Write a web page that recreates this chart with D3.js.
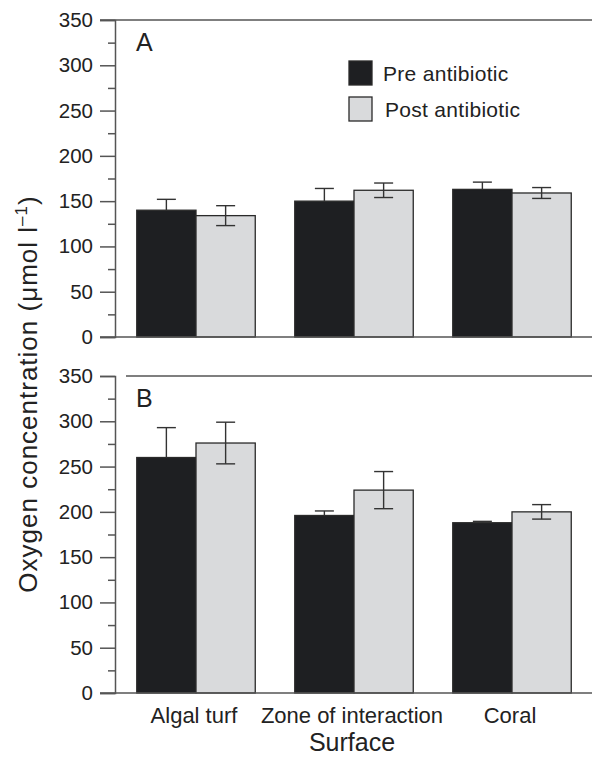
<!DOCTYPE html>
<html>
<head>
<meta charset="utf-8">
<script src="https://cdn.jsdelivr.net/npm/d3@7"></script>
<style>
  html, body { margin: 0; padding: 0; background: #fff; }
  svg { display: block; font-family: "Liberation Sans", Arial, Helvetica, sans-serif; }
</style>
</head>
<body>
<svg id="chart" width="592" height="757"></svg>
<script>
// ---- data ----
const categories = ["Algal turf", "Zone of interaction", "Coral"];
const series = ["Pre antibiotic", "Post antibiotic"];
const panelA_pre = [140, 150, 163];
const panelA_post = [134, 162, 159];
const panelA_preErr = [12, 14, 8];
const panelA_postErr = [11, 8, 6];
const panelB_pre = [260, 196, 188];
const panelB_post = [276, 224, 200];
const panelB_preErr = [33, 5, 1.5];
const panelB_postErr = [23, 20.5, 8];
const yTicks = [0, 50, 100, 150, 200, 250, 300, 350];
const yMinorTicks = [25, 75, 125, 175, 225, 275, 325];
const panelLabels = ["A", "B"];

// ---- layout ----
const svg = d3.select("#chart");
const colors = { "Pre antibiotic": "#1e1f22", "Post antibiotic": "#d9dadc" };
const axisColor = "#555";
const axisX = 115;
const rightX = 592;

const x0 = d3.scaleBand().domain(categories).range([117, 591]).paddingInner(0.25).paddingOuter(0.125);
const x1 = d3.scaleBand().domain(series).range([0, x0.bandwidth()]);

const panels = [
  { label: panelLabels[0], pre: panelA_pre, post: panelA_post, preErr: panelA_preErr, postErr: panelA_postErr,
    y: d3.scaleLinear().domain([0, 350]).range([337, 20]), topStart: 100 },
  { label: panelLabels[1], pre: panelB_pre, post: panelB_post, preErr: panelB_preErr, postErr: panelB_postErr,
    y: d3.scaleLinear().domain([0, 350]).range([693, 376]), topStart: 126 }
];

panels.forEach((p, pi) => {
  const g = svg.append("g");
  const y = p.y;
  const rows = categories.map((c, i) => ({
    cat: c,
    vals: [
      { s: series[0], v: p.pre[i], e: p.preErr[i] },
      { s: series[1], v: p.post[i], e: p.postErr[i] }
    ]
  }));

  // top border line
  g.append("line")
    .attr("x1", p.topStart).attr("x2", rightX)
    .attr("y1", y(350)).attr("y2", y(350))
    .attr("stroke", axisColor).attr("stroke-width", 1.5);

  // bars
  const grp = g.selectAll("g.grp").data(rows).join("g")
    .attr("transform", d => `translate(${x0(d.cat)},0)`);
  grp.selectAll("rect").data(d => d.vals).join("rect")
    .attr("x", d => x1(d.s))
    .attr("y", d => y(d.v))
    .attr("width", x1.bandwidth())
    .attr("height", d => y(0) - y(d.v))
    .attr("fill", d => colors[d.s])
    .attr("stroke", "#2a2a2a")
    .attr("stroke-width", 1.3);

  // error bars
  const eb = grp.selectAll("g.eb").data(d => d.vals).join("g").attr("class", "eb");
  const cap = 9.5;
  eb.append("line")
    .attr("x1", d => x1(d.s) + x1.bandwidth() / 2)
    .attr("x2", d => x1(d.s) + x1.bandwidth() / 2)
    .attr("y1", d => y(d.v + d.e))
    .attr("y2", d => d.s === series[0] ? y(d.v) : y(d.v - d.e))
    .attr("stroke", "#333").attr("stroke-width", 1.4);
  eb.append("line")
    .attr("x1", d => x1(d.s) + x1.bandwidth() / 2 - cap)
    .attr("x2", d => x1(d.s) + x1.bandwidth() / 2 + cap)
    .attr("y1", d => y(d.v + d.e)).attr("y2", d => y(d.v + d.e))
    .attr("stroke", "#333").attr("stroke-width", 1.4);
  eb.filter(d => d.s === series[1]).append("line")
    .attr("x1", d => x1(d.s) + x1.bandwidth() / 2 - cap)
    .attr("x2", d => x1(d.s) + x1.bandwidth() / 2 + cap)
    .attr("y1", d => y(d.v - d.e)).attr("y2", d => y(d.v - d.e))
    .attr("stroke", "#333").attr("stroke-width", 1.4);

  // x axis line (baseline)
  g.append("line")
    .attr("x1", 100).attr("x2", rightX)
    .attr("y1", y(0)).attr("y2", y(0))
    .attr("stroke", axisColor).attr("stroke-width", 1.5);

  // y axis major
  const ya = g.append("g").attr("transform", `translate(${axisX},0)`)
    .call(d3.axisLeft(y).tickValues(yTicks).tickSize(15).tickPadding(7).tickFormat(d3.format("d")));
  ya.select(".domain").attr("stroke", axisColor).attr("stroke-width", 1.5);
  ya.selectAll(".tick line").attr("stroke", axisColor).attr("stroke-width", 1.5);
  ya.selectAll(".tick text").attr("font-size", 20.5).attr("fill", "#222")
    .attr("font-family", "Liberation Sans, Arial, sans-serif");

  // y axis minor
  const ym = g.append("g").attr("transform", `translate(${axisX},0)`)
    .call(d3.axisLeft(y).tickValues(yMinorTicks).tickSize(7).tickFormat(""));
  ym.select(".domain").remove();
  ym.selectAll(".tick line").attr("stroke", axisColor).attr("stroke-width", 1.5);

  // panel label
  g.append("text")
    .attr("x", 136).attr("y", y(350) + 31)
    .attr("font-size", 25).attr("fill", "#222")
    .text(p.label);

  // legend in panel A
  if (pi === 0) {
    const lg = g.append("g");
    series.forEach((s, i) => {
      lg.append("rect")
        .attr("x", 349).attr("y", 61 + i * 36)
        .attr("width", 23).attr("height", 24)
        .attr("fill", colors[s]).attr("stroke", "#2a2a2a").attr("stroke-width", 1.3);
      lg.append("text")
        .attr("x", 383 + i * 2).attr("y", 81 + i * 36)
        .attr("font-size", 21).attr("letter-spacing", 0.3).attr("fill", "#222")
        .text(s);
    });
  }
});

// category labels
svg.append("g").selectAll("text").data(categories).join("text")
  .attr("x", d => x0(d) + x0.bandwidth() / 2 - 2)
  .attr("y", 723)
  .attr("text-anchor", "middle")
  .attr("font-size", 22).attr("fill", "#222")
  .text(d => d);

// x title
svg.append("text")
  .attr("x", 352).attr("y", 751)
  .attr("text-anchor", "middle")
  .attr("font-size", 25).attr("fill", "#222")
  .text("Surface");

// y title
const yt = svg.append("text")
  .attr("transform", "translate(37,394) rotate(-90)")
  .attr("text-anchor", "middle")
  .attr("font-size", 26).attr("letter-spacing", 1).attr("fill", "#222");
yt.append("tspan").text("Oxygen concentration (μmol l");
yt.append("tspan").attr("dy", -10).attr("font-size", 17).text("–1");
yt.append("tspan").attr("dy", 10).text(")");
</script>
</body>
</html>
